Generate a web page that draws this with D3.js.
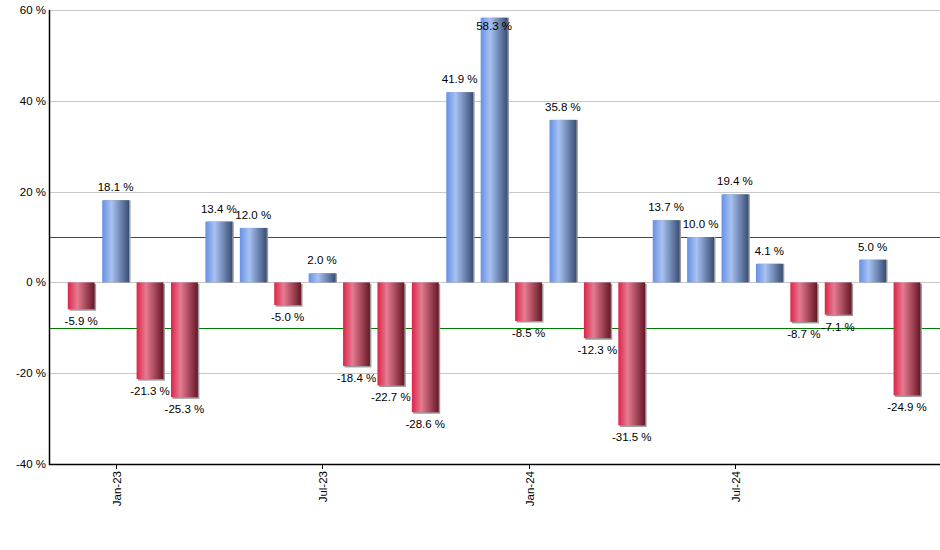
<!DOCTYPE html>
<html><head><meta charset="utf-8">
<script src="https://cdn.jsdelivr.net/npm/d3@7"></script>
<style>body{margin:0;background:#fff}svg{display:block}text{font-family:"Liberation Sans",Arial,sans-serif}</style>
</head><body>
<svg id="c" width="940" height="550"></svg>
<script>
const months = ["Dec-22","Jan-23","Feb-23","Mar-23","Apr-23","May-23","Jun-23","Jul-23","Aug-23","Sep-23","Oct-23","Nov-23","Dec-23","Jan-24","Feb-24","Mar-24","Apr-24","May-24","Jun-24","Jul-24","Aug-24","Sep-24","Oct-24","Nov-24","Dec-24"];
const values = [-5.9,18.1,-21.3,-25.3,13.4,12.0,-5.0,2.0,-18.4,-22.7,-28.6,41.9,58.3,-8.5,35.8,-12.3,-31.5,13.7,10.0,19.4,4.1,-8.7,-7.1,5.0,-24.9];
const yTicks = [-40,-20,0,20,40,60];
const xTickLabels = ["Jan-23","Jul-23","Jan-24","Jul-24"];
const refLines = [10,-10];

const svg = d3.select("#c");
const L = 50, R = 940, T = 10, B = 464;
const x = d3.scaleBand().domain(months).range([64, 924.2]).paddingInner(0.22).paddingOuter(0.11);
const y = d3.scaleLinear().domain([-40,60]).range([B,T]);

const defs = svg.append("defs");
function grad(id, stops){
  const g = defs.append("linearGradient").attr("id",id).attr("x1","0%").attr("x2","100%").attr("y1","0%").attr("y2","0%");
  stops.forEach(s=>g.append("stop").attr("offset",s[0]).attr("stop-color",s[1]));
}
grad("gb",[["0%","#6790e4"],["35%","#a8c2f2"],["100%","#394e75"]]);
grad("gr",[["0%","#dc2449"],["35%","#e67b91"],["100%","#661726"]]);

// gridlines
svg.append("g").selectAll("line").data(yTicks).join("line")
  .attr("x1",L).attr("x2",R).attr("y1",d=>Math.round(y(d))+0.5).attr("y2",d=>Math.round(y(d))+0.5)
  .attr("stroke","#c8c8c8").attr("stroke-width",1);

// reference lines
svg.append("g").selectAll("line").data(refLines).join("line")
  .attr("x1",L).attr("x2",R).attr("y1",d=>Math.round(y(d))+0.5).attr("y2",d=>Math.round(y(d))+0.5)
  .attr("stroke","#007a00").attr("stroke-width",1);

const bw = x.bandwidth();
const bars = svg.append("g").selectAll("g").data(values.map((v,i)=>({m:months[i],v}))).join("g");
bars.append("rect")
  .attr("x",d=>x(d.m)+1.5).attr("y",d=>Math.min(y(d.v),y(0))+(d.v<0?1.5:0))
  .attr("width",bw).attr("height",d=>Math.abs(y(d.v)-y(0)))
  .attr("fill","#9a9a9a");
bars.append("rect")
  .attr("x",d=>x(d.m)).attr("y",d=>Math.min(y(d.v),y(0)))
  .attr("width",bw).attr("height",d=>Math.abs(y(d.v)-y(0)))
  .attr("fill",d=>d.v>=0?"url(#gb)":"url(#gr)");

svg.append("g").selectAll("text").data(values.map((v,i)=>({m:months[i],v}))).join("text")
  .attr("x",d=>x(d.m)+bw/2)
  .attr("y",d=>d.v>=0?Math.max(y(d.v)-9,30):y(d.v)+16)
  .attr("text-anchor","middle").attr("font-size","11.5px").attr("fill","#000")
  .text(d=>d.v.toFixed(1)+" %");

// axes
svg.append("line").attr("x1",L-0.5).attr("x2",L-0.5).attr("y1",T).attr("y2",B+1).attr("stroke","#000").attr("stroke-width",1.5);
svg.append("line").attr("x1",L-1).attr("x2",R).attr("y1",B+0.5).attr("y2",B+0.5).attr("stroke","#000").attr("stroke-width",1.5);

svg.append("g").selectAll("text").data(yTicks).join("text")
  .attr("x",46).attr("y",d=>y(d)).attr("dy","0.35em").attr("text-anchor","end")
  .attr("font-size","11.5px").text(d=>d+" %");

const xt = svg.append("g").selectAll("g").data(xTickLabels).join("g")
  .attr("transform",d=>`translate(${Math.round(x(d)+bw/2)+0.5},0)`);
xt.append("line").attr("y1",B).attr("y2",B+5).attr("stroke","#000");
xt.append("text").attr("transform",`translate(0,${B+7}) rotate(-90)`).attr("dy","0.35em")
  .attr("text-anchor","end").attr("font-size","11.5px").text(d=>d);
</script>
</body></html>
